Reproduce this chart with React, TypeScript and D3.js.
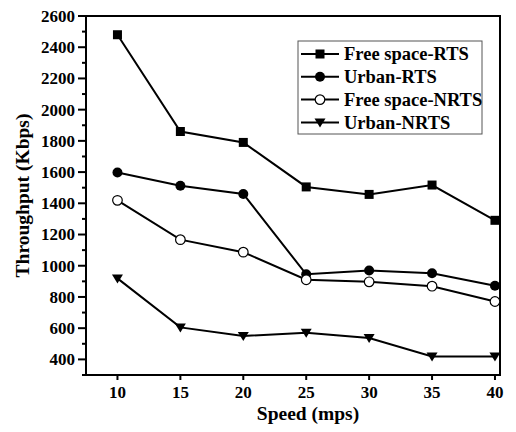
import React from "react";
import * as d3 from "d3";

const speeds = [10, 15, 20, 25, 30, 35, 40];
const freeSpaceRTS = [2480, 1860, 1790, 1505, 1457, 1517, 1291];
const urbanRTS = [1597, 1512, 1460, 945, 970, 952, 872];
const freeSpaceNRTS = [1419, 1167, 1087, 910, 897, 869, 771];
const urbanNRTS = [919, 605, 550, 571, 537, 418, 418];
const seriesNames = ["Free space-RTS", "Urban-RTS", "Free space-NRTS", "Urban-NRTS"];
const markerKinds = ["square", "circle", "open", "triangle"];
const yTicks = [400, 600, 800, 1000, 1200, 1400, 1600, 1800, 2000, 2200, 2400, 2600];
const yMinorTicks = [300, 500, 700, 900, 1100, 1300, 1500, 1700, 1900, 2100, 2300, 2500];

const W = 516;
const H = 432;
const left = 86, right = 500, top = 16, bottom = 375;
const FONT = "Liberation Serif";
const txt = { fontFamily: FONT, fontWeight: 700, fill: "#000" } as React.CSSProperties;

function Marker({ kind, x, y }: { kind: string; x: number; y: number }) {
  if (kind === "square") return <rect x={x - 4.5} y={y - 4.5} width={9} height={9} fill="#000" />;
  if (kind === "circle") return <circle cx={x} cy={y} r={5} fill="#000" />;
  if (kind === "open") return <circle cx={x} cy={y} r={4.8} fill="#fff" stroke="#000" strokeWidth={1.2} />;
  return <path d={`M${x - 5.5},${y - 4} L${x + 5.5},${y - 4} L${x},${y + 5} Z`} fill="#000" />;
}

export default function App() {
  const x = d3.scaleLinear().domain([7.5, 40.4]).range([left, right]);
  const y = d3.scaleLinear().domain([300, 2600]).range([bottom, top]);
  const all = [freeSpaceRTS, urbanRTS, freeSpaceNRTS, urbanNRTS];
  const line = d3.line<number>().x((_, i) => x(speeds[i])).y((v) => y(v));

  return (
    <svg width={W} height={H} style={{ position: "absolute", left: 0, top: 0 }}>
      <rect width={W} height={H} fill="#fff" />
      <rect x={left} y={top} width={right - left} height={bottom - top} fill="none" stroke="#000" strokeWidth={2} />
      {yTicks.map((t) => (
        <g key={t}>
          <line x1={left - 8} x2={left} y1={y(t)} y2={y(t)} stroke="#000" strokeWidth={2} />
          <text x={left - 11} y={y(t)} dy="0.35em" textAnchor="end" fontSize={17} style={txt}>{t}</text>
        </g>
      ))}
      {yMinorTicks.map((t) => (
        <line key={t} x1={left - 4} x2={left} y1={y(t)} y2={y(t)} stroke="#000" strokeWidth={2} />
      ))}
      {speeds.map((s) => (
        <g key={s}>
          <line x1={x(s)} x2={x(s)} y1={bottom} y2={bottom + 5} stroke="#000" strokeWidth={2} />
          <text x={x(s)} y={bottom + 23} textAnchor="middle" fontSize={17} style={txt}>{s}</text>
        </g>
      ))}
      <text x={308} y={420} textAnchor="middle" fontSize={19.5} style={txt}>Speed (mps)</text>
      <text transform={`translate(29,${(top + bottom) / 2}) rotate(-90)`} textAnchor="middle" fontSize={19.5} style={txt}>Throughput (Kbps)</text>
      {all.map((vals, si) => (
        <g key={si}>
          <path d={line(vals) || ""} fill="none" stroke="#000" strokeWidth={2} />
          {vals.map((v, i) => (
            <Marker key={i} kind={markerKinds[si]} x={x(speeds[i])} y={y(v)} />
          ))}
        </g>
      ))}
      <rect x={298} y={41} width={184} height={93} fill="#fff" stroke="#555" strokeWidth={1} />
      {seriesNames.map((n, i) => {
        const ly = 54 + i * 22.8;
        return (
          <g key={n}>
            <line x1={301} x2={339} y1={ly} y2={ly} stroke="#000" strokeWidth={2} />
            <Marker kind={markerKinds[i]} x={320} y={ly} />
            <text x={344} y={ly} dy="0.35em" fontSize={18.5} style={txt}>{n}</text>
          </g>
        );
      })}
    </svg>
  );
}
